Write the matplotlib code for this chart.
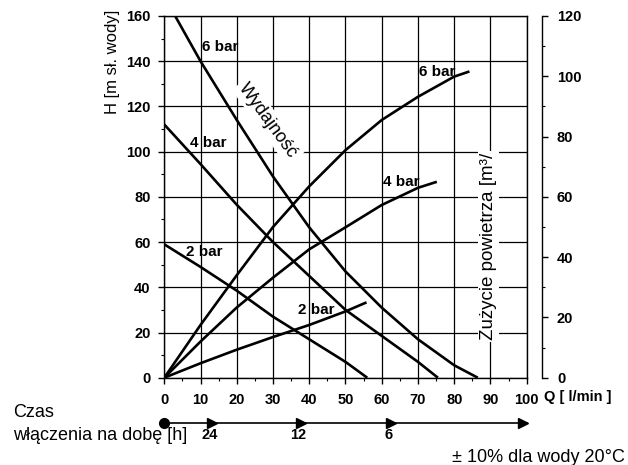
import numpy as np
import matplotlib.pyplot as plt
from matplotlib.ticker import MultipleLocator

plt.rcParams["font.family"] = ["Liberation Sans", "DejaVu Sans"]

# Pump head H [m] vs flow Q [l/min], left axis
Q_H6 = [3.0, 10, 20, 30, 40, 50, 60, 70, 80, 86.5]
H_6 = [160, 140, 114, 89, 66.5, 47, 31, 17, 5.5, 0]
Q_H4 = [0, 10, 20, 30, 40, 50, 60, 70, 75.5]
H_4 = [112, 94.5, 76.5, 60, 45, 30, 18.5, 7, 0]
Q_H2 = [0, 10, 20, 30, 40, 50, 56]
H_2 = [59, 49, 38.5, 27, 17, 7, 0]

# Air consumption vs flow Q, right axis
Q_A6 = [0, 10, 20, 30, 40, 50, 60, 70, 80, 84.2]
A_6 = [0, 17.5, 34, 50, 63.5, 75.5, 85.5, 93.2, 99.9, 101.6]
Q_A4 = [0, 10, 20, 30, 40, 50, 60, 70, 75.2]
A_4 = [0, 12, 23.3, 33.2, 42.6, 49.9, 57.3, 63, 65]
Q_A2 = [0, 10, 20, 30, 40, 50, 55.8]
A_2 = [0, 4.8, 9.3, 13.5, 17.5, 22, 25]

# Running time per day markers
RUN_Q = [13.2, 37.8, 62.6]
RUN_LABELS = ["24", "12", "6"]

LW = 1.9
TICK_SIZE = 10.5

fig = plt.figure(figsize=(6.28, 4.65), dpi=100)
ax = fig.add_axes([0.2616, 0.1877, 0.5771, 0.7779])
ax2 = ax.twinx()

ax.set_xlim(0, 100)
ax.set_ylim(0, 160)
ax2.set_ylim(0, 120)

ax.xaxis.set_major_locator(MultipleLocator(10))
ax.xaxis.set_minor_locator(MultipleLocator(5))
ax.yaxis.set_major_locator(MultipleLocator(20))
ax.yaxis.set_minor_locator(MultipleLocator(10))
ax2.yaxis.set_major_locator(MultipleLocator(20))
ax2.yaxis.set_minor_locator(MultipleLocator(10))

ax.grid(True, which="major", color="black", linewidth=0.9, zorder=1)
ax.set_axisbelow(True)

for s in ax.spines.values():
    s.set_linewidth(1.0)
for name in ["left", "top", "bottom"]:
    ax2.spines[name].set_visible(False)
ax2.spines["right"].set_position(("outward", 10.8))
ax2.spines["right"].set_linewidth(1.0)

ax.tick_params(axis="both", which="major", direction="out", length=4, width=1, pad=6)
ax.tick_params(axis="both", which="minor", direction="out", length=2.5, width=0.8)
ax.tick_params(axis="x", which="major", pad=7)
ax2.tick_params(axis="y", which="major", direction="out", length=4, width=1, pad=7)
ax2.tick_params(axis="y", which="minor", direction="out", length=2.5, width=0.8)

for lab in ax.get_xticklabels() + ax.get_yticklabels() + ax2.get_yticklabels():
    lab.set_fontsize(TICK_SIZE)
    lab.set_fontweight("bold")

# curves
for q, h in [(Q_H6, H_6), (Q_H4, H_4), (Q_H2, H_2)]:
    ax.plot(q, h, color="black", lw=LW, zorder=3, solid_capstyle="butt", solid_joinstyle="round")
for q, a in [(Q_A6, A_6), (Q_A4, A_4), (Q_A2, A_2)]:
    ax2.plot(q, a, color="black", lw=LW, zorder=3, solid_capstyle="butt", solid_joinstyle="round")

# curve labels
lbl = dict(fontsize=11, fontweight="bold", va="center", ha="left", zorder=4)
ax.text(10.3, 146.5, "6 bar", **lbl)
ax.text(7.1, 103.8, "4 bar", **lbl)
ax.text(5.9, 55.8, "2 bar", **lbl)
ax.text(70.4, 135.4, "6 bar", **lbl)
ax.text(60.3, 86.7, "4 bar", **lbl)
ax.text(36.9, 30.0, "2 bar", **lbl)

ax.text(28.6, 113.6, "Wydajność", fontsize=13, rotation=-54, ha="center", va="center",
        rotation_mode="anchor", zorder=2.5,
        bbox=dict(boxstyle="square,pad=0.15", facecolor="white", edgecolor="none"))
ax.text(89.5, 58, "Zużycie powietrza [m³/", fontsize=13.5, rotation=90, ha="center", va="center",
        zorder=2.5, bbox=dict(boxstyle="square,pad=0.1", facecolor="white", edgecolor="none"))

# axis titles
fig.text(113 / 628, 1 - 62 / 465, "H [m sł. wody]", fontsize=12, rotation=90,
         ha="center", va="center")
ax.text(104.9, -8.5, "Q [ l/min ]", fontsize=TICK_SIZE, fontweight="bold", ha="left", va="center",
        clip_on=False)

# running time arrow line
ty = -19.9
ax.plot([0, 100], [ty, ty], color="black", lw=1.2, clip_on=False, zorder=3)
ax.plot([0], [ty], marker="o", color="black", markersize=7, clip_on=False, zorder=4)
ax.plot(RUN_Q + [99], [ty] * (len(RUN_Q) + 1), linestyle="none", marker=">", color="black",
        markersize=7, clip_on=False, zorder=4)
for q, t in zip(RUN_Q, RUN_LABELS):
    ax.text(q - 0.8, ty - 5.5, t, fontsize=10.5, fontweight="bold", ha="center", va="center",
            clip_on=False)

fig.text(13 / 628, 1 - 412 / 465, "Czas", fontsize=13, ha="left", va="center")
fig.text(13 / 628, 1 - 435 / 465, "włączenia na dobę [h]", fontsize=13, ha="left", va="center")
fig.text(625 / 628, 1 - 457 / 465, "± 10% dla wody 20°C", fontsize=13, ha="right", va="center")

fig.savefig("out.png", dpi=100, facecolor="white")
